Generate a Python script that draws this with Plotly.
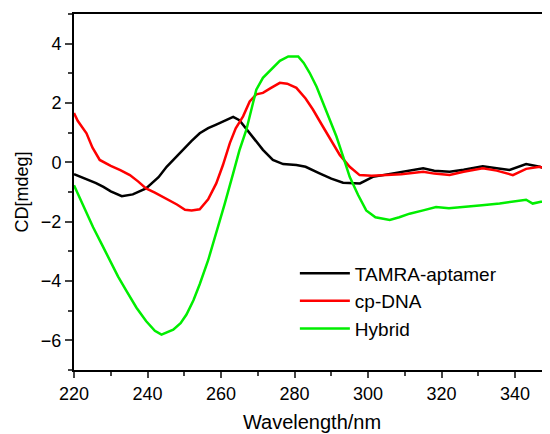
import plotly.graph_objects as go

# TAMRA-aptamer
tamra_x = [220, 223, 226, 228, 230, 233, 236, 239.6, 243, 245.2, 247.5, 249.7, 252, 254.2, 256.5, 258.7, 261, 263.3, 265,
           267.8, 269.6, 271.4, 274.1, 276.9, 280.5, 283, 286.8, 290, 293.2, 297.8, 301.3, 306.8, 311, 315, 318, 322.2,
           326, 331.2, 335, 338.5, 343, 346.7, 349.5]
tamra_y = [-0.40, -0.55, -0.70, -0.83, -0.98, -1.14, -1.08, -0.88, -0.50, -0.15, 0.15, 0.42, 0.72, 0.98, 1.15, 1.27, 1.40, 1.53, 1.42,
           0.98, 0.70, 0.42, 0.08, -0.06, -0.09, -0.15, -0.37, -0.55, -0.69, -0.71, -0.49, -0.37, -0.30, -0.20, -0.28, -0.32,
           -0.25, -0.13, -0.20, -0.26, -0.06, -0.15, -0.26]

# cp-DNA
cp_x = [220, 221, 223.4, 225, 227, 230, 232.6, 235.2, 237.5, 239.6, 242, 245.2, 248, 250.2, 252, 254.2, 256.5, 258.7, 260.5,
        262.4, 264, 266, 267.8, 269.6, 271.4, 273.5, 276, 278, 280.5, 283, 285, 287.5, 289.6, 292.3, 295, 297.7, 301, 304,
        309, 315, 318, 322.2, 326, 331.2, 335, 339.4, 343, 346.7, 349.5]
cp_y = [1.66, 1.40, 0.98, 0.50, 0.08, -0.12, -0.26, -0.43, -0.65, -0.88, -1.02, -1.22, -1.42, -1.60, -1.62, -1.58, -1.25, -0.71, -0.10,
        0.65, 1.15, 1.55, 2.05, 2.29, 2.34, 2.50, 2.68, 2.65, 2.51, 2.15, 1.78, 1.25, 0.81, 0.25, -0.15, -0.43, -0.45, -0.43,
        -0.40, -0.32, -0.38, -0.43, -0.32, -0.20, -0.28, -0.43, -0.22, -0.15, -0.26]

# Hybrid
hyb_x = [220, 222.5, 225.2, 227.5, 229.8, 232, 234.3, 237, 239.6, 242, 243.8, 245.5, 247, 249, 250.6, 252.5, 254.2, 256.5,
         258.7, 261, 263.3, 265, 266.9, 268.5, 269.6, 271.4, 273.5, 276, 278.3, 281, 282.5, 284.1, 286, 287.7, 289.5, 291.4,
         293.2, 295, 297.3, 299.5, 302, 305.9, 308.5, 311.3, 315, 318.5, 322, 326.7, 331, 335.8, 340, 343, 344.8, 347, 349.5]
hyb_y = [-0.77, -1.45, -2.19, -2.75, -3.32, -3.85, -4.34, -4.90, -5.35, -5.68, -5.81, -5.72, -5.64, -5.42, -5.13, -4.65, -4.11, -3.30,
         -2.41, -1.40, -0.37, 0.40, 1.10, 1.85, 2.45, 2.85, 3.10, 3.42, 3.57, 3.57, 3.35, 3.02, 2.55, 2.00, 1.45, 0.87,
         0.20, -0.49, -1.10, -1.62, -1.85, -1.94, -1.85, -1.73, -1.62, -1.51, -1.55, -1.51, -1.45, -1.39, -1.30, -1.26, -1.39, -1.33, -1.30]

x_ticks = [220, 240, 260, 280, 300, 320, 340]
y_ticks = [-6, -4, -2, 0, 2, 4]

FONT = "Arial, Liberation Sans, sans-serif"

fig = go.Figure()
fig.add_trace(go.Scatter(x=tamra_x, y=tamra_y, mode="lines", name="TAMRA-aptamer",
                         line=dict(color="#000000", width=2.5)))
fig.add_trace(go.Scatter(x=cp_x, y=cp_y, mode="lines", name="cp-DNA",
                         line=dict(color="#ff0000", width=2.5)))
fig.add_trace(go.Scatter(x=hyb_x, y=hyb_y, mode="lines", name="Hybrid",
                         line=dict(color="#00ee00", width=2.5)))

fig.update_layout(
    width=542, height=426,
    margin=dict(l=66, r=0, t=6, b=64),
    plot_bgcolor="white", paper_bgcolor="white",
    font=dict(family=FONT, color="black", size=18),
    showlegend=True,
    legend=dict(x=0.464, y=0.325, xanchor="left", yanchor="top",
                font=dict(size=19, family=FONT), bgcolor="rgba(0,0,0,0)",
                tracegroupgap=0, itemwidth=50),
    xaxis=dict(range=[220, 349.5], tickvals=x_ticks, ticks="outside", ticklen=6, tickwidth=1.5,
               showline=True, linecolor="black", linewidth=2, mirror=True, showgrid=False, zeroline=False,
               minor=dict(dtick=10, tick0=220, ticks="outside", ticklen=4, tickwidth=1.5),
               title=dict(text="Wavelength/nm", font=dict(size=20), standoff=12),
               tickfont=dict(size=18)),
    yaxis=dict(range=[-7, 5], tickvals=y_ticks, ticks="outside", ticklen=7, tickwidth=1.5,
               showline=True, linecolor="black", linewidth=2, mirror=False, showgrid=False, zeroline=False,
               minor=dict(dtick=1, tick0=-7, ticks="outside", ticklen=4, tickwidth=1.5),
               title=dict(text="CD[mdeg]", font=dict(size=18), standoff=8),
               tickfont=dict(size=18)),
)

fig.write_html("out.html")
